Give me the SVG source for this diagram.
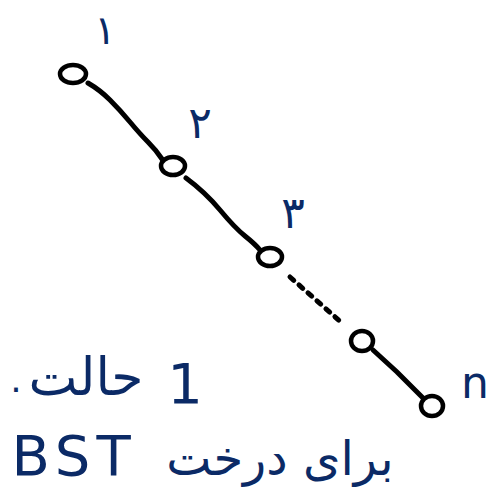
<svg xmlns="http://www.w3.org/2000/svg" width="490" height="503" viewBox="0 0 490 503">
<style>
.node{fill:#fff;stroke:#000;stroke-width:4.5}
.edge{fill:none;stroke:#000;stroke-width:5;stroke-linecap:round}
.dot{stroke-dasharray:5 7}
.lbl{fill:#0b2a66;font-family:"DejaVu Sans",sans-serif}
</style>
<rect width="490" height="503" fill="#fff"/>
<g id="connectors">
<path class="edge" d="M88 83 Q100 90 110 100 T130 122 T148 142 T162 159"/>
<path class="edge" d="M186 178 Q205 192 220 210 T245 236 T260 250"/>
<path class="edge dot" d="M290 277 L342 323"/>
<path class="edge" d="M373 350 L397 372 L423 398"/>
</g>
<g id="node1"><ellipse class="node" cx="73" cy="74" rx="13" ry="9"/><text class="lbl" x="105" y="44" font-size="40" text-anchor="middle">۱</text></g>
<g id="node2"><ellipse class="node" cx="173" cy="166" rx="12" ry="9"/><text class="lbl" x="200" y="138" font-size="44" text-anchor="middle">۲</text></g>
<g id="node3"><ellipse class="node" cx="270" cy="257" rx="12" ry="9"/><text class="lbl" x="293" y="228" font-size="44" text-anchor="middle">۳</text></g>
<g id="node4"><ellipse class="node" cx="362" cy="341" rx="11" ry="10"/></g>
<g id="noden"><ellipse class="node" cx="432" cy="406" rx="11" ry="10"/><text class="lbl" x="475" y="398" font-size="44" text-anchor="middle">n</text></g>
<g id="caption">
<text class="lbl" x="16" y="392" font-size="36" text-anchor="middle">.</text>
<text class="lbl" x="86" y="395" font-size="52" text-anchor="middle">حالت</text>
<text class="lbl" x="185" y="403" font-size="56" text-anchor="middle">1</text>
<text class="lbl" x="74" y="475" font-size="56" letter-spacing="6" text-anchor="middle">BST</text>
<text class="lbl" x="280" y="475" font-size="48" text-anchor="middle">برای درخت</text>
</g>
</svg>
